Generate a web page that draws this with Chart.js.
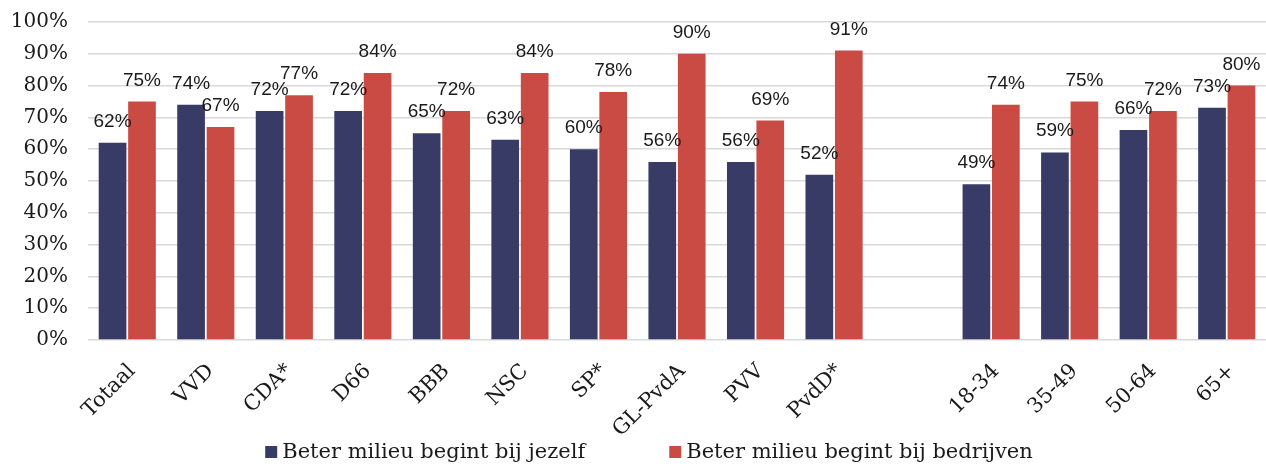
<!DOCTYPE html>
<html>
<head>
<meta charset="utf-8">
<script src="https://cdn.jsdelivr.net/npm/chart.js@4.4.0/dist/chart.umd.min.js"></script>
<style>
    html, body { margin: 0; padding: 0; background: #fff; }
</style>
</head>
<body>
<canvas id="milieuChart" width="1266" height="466"></canvas>
<script>
// Data
const categories = ['Totaal', 'VVD', 'CDA*', 'D66', 'BBB', 'NSC', 'SP*', 'GL-PvdA', 'PVV', 'PvdD*', '', '18-34', '35-49', '50-64', '65+'];
const jezelf = [62, 74, 72, 72, 65, 63, 60, 56, 56, 52, null, 49, 59, 66, 73];
const bedrijven = [75, 67, 77, 84, 72, 84, 78, 90, 69, 91, null, 74, 75, 72, 80];
const seriesNames = ['Beter milieu begint bij jezelf', 'Beter milieu begint bij bedrijven'];

const serifFont = '"DejaVu Serif", serif';
const labelFont = '"Liberation Sans", Arial, sans-serif';

// Value labels above the bars
const barLabels = {
    id: 'barLabels',
    afterDatasetsDraw(chart) {
        const ctx = chart.ctx;
        ctx.save();
        ctx.font = '19px ' + labelFont;
        ctx.fillStyle = '#1a1a1a';
        ctx.textAlign = 'center';
        ctx.textBaseline = 'alphabetic';
        chart.data.datasets.forEach((ds, i) => {
            chart.getDatasetMeta(i).data.forEach((bar, j) => {
                if (ds.data[j] == null) return;
                ctx.fillText(ds.data[j] + '%', bar.x, bar.y - 16);
            });
        });
        ctx.restore();
    }
};

// Legend at the bottom, wide gap between items
const bottomLegend = {
    id: 'bottomLegend',
    afterDraw(chart) {
        const ctx = chart.ctx;
        const box = 12, textGap = 5, itemGap = 84;
        ctx.save();
        ctx.font = '21px ' + serifFont;
        const widths = chart.data.datasets.map(ds => box + textGap + ctx.measureText(ds.label).width);
        const total = widths.reduce((a, b) => a + b, 0) + itemGap * (widths.length - 1);
        let x = chart.width / 2 - total / 2 + 16;
        const y = chart.height - 14;
        ctx.textBaseline = 'middle';
        ctx.textAlign = 'left';
        chart.data.datasets.forEach((ds, i) => {
            ctx.fillStyle = ds.backgroundColor;
            ctx.fillRect(x, y - box / 2, box, box);
            ctx.fillStyle = '#1a1a1a';
            ctx.fillText(ds.label, x + box + textGap, y + 1);
            x += widths[i] + itemGap;
        });
        ctx.restore();
    }
};

new Chart(document.getElementById('milieuChart'), {
    type: 'bar',
    data: {
        labels: categories,
        datasets: [{
            label: seriesNames[0],
            data: jezelf,
            backgroundColor: '#393b67',
            categoryPercentage: 0.75,
            barPercentage: 0.94
        }, {
            label: seriesNames[1],
            data: bedrijven,
            backgroundColor: '#c94b44',
            categoryPercentage: 0.75,
            barPercentage: 0.94
        }]
    },
    options: {
        responsive: false,
        devicePixelRatio: 1,
        animation: false,
        layout: {
            padding: { top: 22, left: 8, right: 0, bottom: 32 }
        },
        plugins: {
            legend: { display: false },
            tooltip: { enabled: false }
        },
        scales: {
            y: {
                min: 0,
                max: 100,
                afterFit: scale => {
                    scale.width = 80;
                    scale.paddingTop = 0;
                },
                ticks: {
                    stepSize: 10,
                    padding: 20,
                    color: '#1a1a1a',
                    font: { family: serifFont, size: 20 },
                    callback: v => v + '%'
                },
                grid: {
                    color: '#d9d9d9',
                    lineWidth: 1.5,
                    drawTicks: false
                },
                border: { display: false }
            },
            x: {
                afterFit: scale => {
                    scale.paddingLeft = 0;
                    scale.paddingRight = 0;
                    scale.height = 94;
                },
                grid: { display: false },
                border: { display: false },
                ticks: {
                    autoSkip: false,
                    minRotation: 45,
                    maxRotation: 45,
                    padding: 11,
                    labelOffset: 5,
                    color: '#1a1a1a',
                    font: { family: serifFont, size: 21 }
                }
            }
        }
    },
    plugins: [barLabels, bottomLegend]
});
</script>
</body>
</html>
